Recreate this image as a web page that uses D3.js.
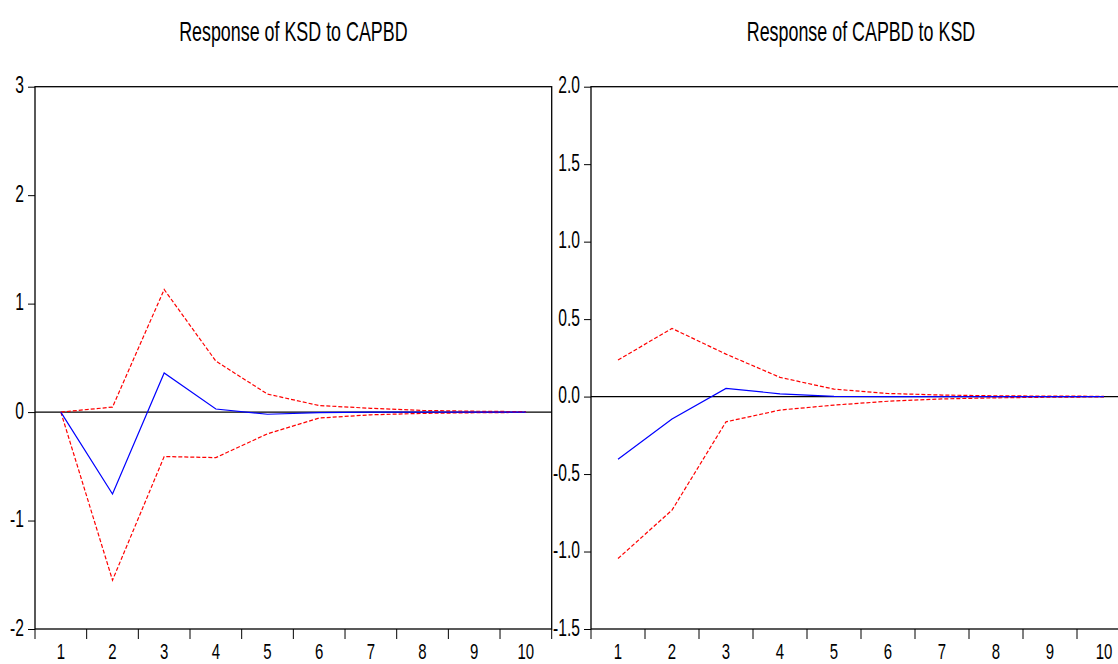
<!DOCTYPE html>
<html>
<head>
<meta charset="utf-8">
<script src="https://cdn.jsdelivr.net/npm/d3@7"></script>
<style>
  body { margin: 0; background: #fff; }
  svg text { font-family: "Liberation Sans", Arial, sans-serif; fill: #000; }
</style>
</head>
<body>
<div id="chart"></div>
<script>
// periods on the horizontal axis
const periods = [1, 2, 3, 4, 5, 6, 7, 8, 9, 10];

// Response of KSD to CAPBD
const ksdResponse = [0, -0.756, 0.36, 0.028, -0.02, -0.005, 0, 0, 0, 0];
const ksdUpper = [0, 0.046, 1.13, 0.47, 0.166, 0.06, 0.035, 0.015, 0.008, 0.004];
const ksdLower = [0, -1.55, -0.41, -0.42, -0.2, -0.055, -0.025, -0.012, -0.006, -0.003];
const ksdTicks = [-2, -1, 0, 1, 2, 3];

// Response of CAPBD to KSD
const capbdResponse = [-0.405, -0.145, 0.053, 0.018, 0.002, 0, 0, 0, 0, 0];
const capbdUpper = [0.236, 0.44, 0.274, 0.124, 0.048, 0.02, 0.01, 0.005, 0.003, 0.002];
const capbdLower = [-1.045, -0.733, -0.163, -0.087, -0.055, -0.03, -0.015, -0.008, -0.004, -0.002];
const capbdTicks = [-1.5, -1.0, -0.5, 0.0, 0.5, 1.0, 1.5, 2.0];

const width = 1118;
const height = 664;
const squeeze = 0.68; // narrow font look

const svg = d3.select('#chart').append('svg')
    .attr('width', width)
    .attr('height', height);

const panels = [
  {
    title: 'Response of KSD to CAPBD', left: 35, right: 551.7,
    domain: [-2, 3], ticks: ksdTicks, fmt: (d) => String(d),
    mid: ksdResponse, upper: ksdUpper, lower: ksdLower
  },
  {
    title: 'Response of CAPBD to KSD', left: 591, right: 1131,
    domain: [-1.5, 2], ticks: capbdTicks, fmt: (d) => d.toFixed(1),
    mid: capbdResponse, upper: capbdUpper, lower: capbdLower
  }
];

const plotTop = 86.7;
const plotBottom = 629;

function narrowText(sel, x, y, size, anchor, txt, sx = squeeze) {
  return sel.append('text')
      .attr('transform', `translate(${x},${y}) scale(${sx},1)`)
      .attr('text-anchor', anchor)
      .style('font-size', `${size}px`)
      .text(txt);
}

panels.forEach((p) => {
  const x = d3.scaleBand()
      .domain(periods)
      .range([p.left, p.right]);

  const y = d3.scaleLinear()
      .domain(p.domain)
      .range([plotBottom, plotTop]);

  const g = svg.append('g');

  narrowText(g, (p.left + p.right) / 2, 40.7, 27.5, 'middle', p.title, 0.65);

  // frame
  g.append('rect')
      .attr('x', p.left)
      .attr('y', plotTop)
      .attr('width', p.right - p.left)
      .attr('height', plotBottom - plotTop)
      .attr('fill', 'none')
      .attr('stroke', '#000')
      .attr('stroke-width', 1.3);

  const yAxis = d3.axisLeft(y)
      .tickValues(p.ticks)
      .tickFormat(p.fmt)
      .tickSize(7)
      .tickPadding(4);

  g.append('g')
      .attr('transform', `translate(${p.left},0)`)
      .call(yAxis)
      .call((a) => a.select('.domain').remove())
      .call((a) => a.selectAll('.tick line').attr('stroke', '#000'))
      .call((a) => a.selectAll('text')
          .style('font-size', '23px')
          .style('font-family', null)
          .attr('fill', '#000')
          .attr('dy', '0.27em')
          .attr('transform', `translate(-11,0) scale(${squeeze},1)`)
          .attr('x', 0));

  // ticks between periods
  const edges = periods.map((d) => x(d)).concat([p.right]);
  g.append('g').selectAll('line')
      .data(edges)
    .enter()
      .append('line')
      .attr('x1', (d) => d)
      .attr('x2', (d) => d)
      .attr('y1', plotBottom)
      .attr('y2', plotBottom + 10)
      .attr('stroke', '#000');

  const labels = g.append('g');
  periods.forEach((d) => {
    narrowText(labels, x(d) + x.bandwidth() / 2, 659, 22, 'middle', d);
  });

  // zero line
  g.append('line')
      .attr('x1', p.left)
      .attr('x2', p.right)
      .attr('y1', y(0))
      .attr('y2', y(0))
      .attr('stroke', '#000')
      .attr('stroke-width', 1.2);

  const line = d3.line()
      .x((d, i) => x(periods[i]) + x.bandwidth() / 2)
      .y((d) => y(d));

  [p.upper, p.lower].forEach((band) => {
    g.append('path')
        .datum(band)
        .attr('d', line)
        .attr('fill', 'none')
        .attr('stroke', '#ff0000')
        .attr('stroke-width', 1.2)
        .attr('stroke-dasharray', '4,2');
  });

  g.append('path')
      .datum(p.mid)
      .attr('d', line)
      .attr('fill', 'none')
      .attr('stroke', '#0000ff')
      .attr('stroke-width', 1.2);
});
</script>
</body>
</html>
